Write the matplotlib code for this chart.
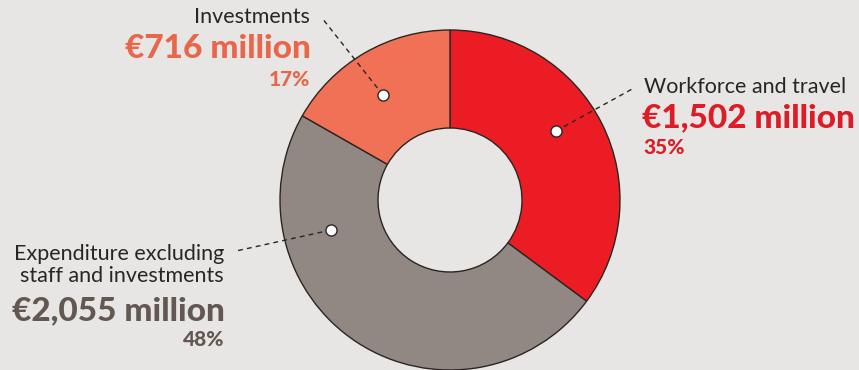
import numpy as np
import matplotlib.pyplot as plt

plt.rcParams['font.family'] = ['Lato', 'DejaVu Sans']

labels = ['Workforce and travel', 'Expenditure excluding\nstaff and investments', 'Investments']
amounts = [1502, 2055, 716]
amount_text = ['€1,502 million', '€2,055 million', '€716 million']
shares = ['35%', '48%', '17%']

wedge_colors = ['#ec1c24', '#928883', '#f07155']
text_colors = ['#dc1c27', '#625752', '#e8674a']
bg = '#e7e6e4'

W, H = 859, 370
fig = plt.figure(figsize=(W / 100, H / 100), dpi=100, facecolor=bg)
ax = fig.add_axes([0, 0, 1, 1])

def py(y):
    # pixel row from top -> data y
    return H - y

cx, cy, R = 450, py(200), 170
ax.pie(amounts, colors=wedge_colors, startangle=90, counterclock=False,
       center=(cx, cy), radius=R, frame=True,
       wedgeprops=dict(width=R - 72, edgecolor='#2b2522', linewidth=1.0))
ax.set_xlim(0, W)
ax.set_ylim(0, H)
ax.set_aspect('equal')
ax.axis('off')

# leader lines: dot in wedge -> end near label
dots = [(556, 131), (331, 230), (383, 95)]
ends = [(634, 88), (236, 251), (322, 18)]
for (dx, dy), (ex, ey) in zip(dots, ends):
    ax.plot([dx, ex], [py(dy), py(ey)], ls=(0, (3.5, 3)), color='#2b2522', lw=1.0, zorder=3)
    ax.plot(dx, py(dy), 'o', ms=8, mfc='white', mec='#2b2522', mew=1.0, zorder=4)

big = dict(fontsize=24, fontweight='black')
pct = dict(fontsize=15, fontweight='black')

# Workforce and travel (left aligned)
ax.text(644, py(87), labels[0], ha='left', va='center', fontsize=15.5, color='#2b2522')
ax.text(642, py(118), amount_text[0], ha='left', va='center', color=text_colors[0], **big)
ax.text(643, py(148), shares[0], ha='left', va='center', color=text_colors[0], **pct)

# Expenditure (right aligned)
ax.text(224, py(265), labels[1], ha='right', va='center', fontsize=15.5,
        color='#2b2522', linespacing=1.15)
ax.text(225, py(311), amount_text[1], ha='right', va='center', color=text_colors[1], **big)
ax.text(224, py(340), shares[1], ha='right', va='center', color=text_colors[1], **pct)

# Investments (right aligned)
ax.text(310, py(17), labels[2], ha='right', va='center', fontsize=15.5, color='#2b2522')
ax.text(311, py(49), amount_text[2], ha='right', va='center', color=text_colors[2], **big)
ax.text(310, py(79), shares[2], ha='right', va='center', color=text_colors[2], **pct)

fig.savefig('out.png', dpi=100, facecolor=bg)
